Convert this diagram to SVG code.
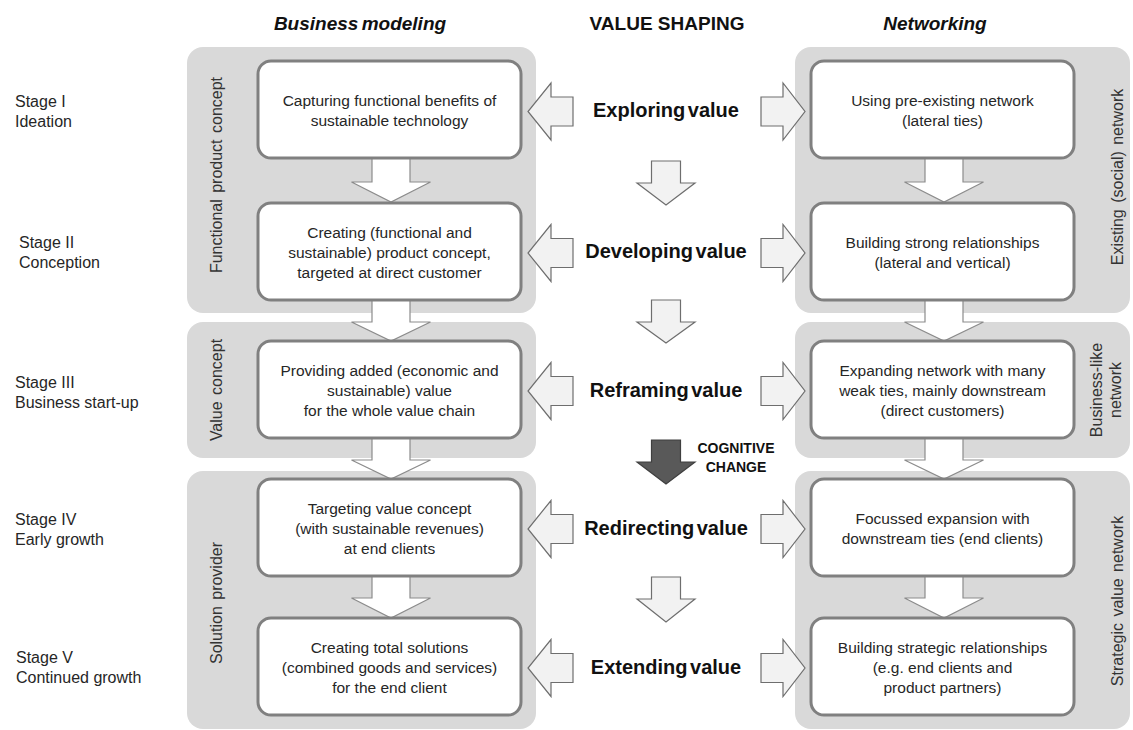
<svg xmlns="http://www.w3.org/2000/svg" width="1133" height="730" viewBox="0 0 1133 730">
  <style>
    .panel { fill: #d9d9d9; }
    .box { fill: #ffffff; stroke: #808080; stroke-width: 3; }
    .flow { fill: #ffffff; stroke: #8c8c8c; stroke-width: 1.2; stroke-linejoin: miter; }
    .mid { fill: #f2f2f2; stroke: #6e6e6e; stroke-width: 1.2; }
    .dark { fill: #595959; stroke: #3f3f3f; stroke-width: 1.2; }
    .txt { font-family: "Liberation Sans", Arial, sans-serif; font-size: 15.5px; fill: #262626; text-anchor: middle; }
    .stage { font-family: "Liberation Sans", Arial, sans-serif; font-size: 16px; fill: #262626; }
    .side { font-family: "Liberation Sans", Arial, sans-serif; font-size: 16px; fill: #333333; text-anchor: middle; word-spacing: 2px; }
    .val { font-family: "Liberation Sans", Arial, sans-serif; font-size: 20px; font-weight: bold; fill: #111111; text-anchor: middle; word-spacing: -3px; }
    .head { font-family: "Liberation Sans", Arial, sans-serif; font-size: 19px; font-weight: bold; fill: #111111; text-anchor: middle; }
    .cog { font-family: "Liberation Sans", Arial, sans-serif; font-size: 14px; font-weight: bold; fill: #111111; text-anchor: middle; }
  </style>

  <rect width="1133" height="730" fill="#ffffff"/>

  <!-- column headers -->
  <g id="headers">
    <text class="head" x="360" y="30" font-style="italic" word-spacing="-2">Business modeling</text>
    <text class="head" x="667" y="30">VALUE SHAPING</text>
    <text class="head" x="935" y="30" font-style="italic">Networking</text>
  </g>

  <!-- stage labels -->
  <g id="stages">
    <text class="stage" x="15" y="107">Stage I</text>
    <text class="stage" x="15" y="127">Ideation</text>
    <text class="stage" x="19" y="248">Stage II</text>
    <text class="stage" x="19" y="268">Conception</text>
    <text class="stage" x="15" y="388">Stage III</text>
    <text class="stage" x="15" y="408">Business start-up</text>
    <text class="stage" x="15" y="525">Stage IV</text>
    <text class="stage" x="15" y="545">Early growth</text>
    <text class="stage" x="16" y="663">Stage V</text>
    <text class="stage" x="16" y="683">Continued growth</text>
  </g>

  <!-- grey phase panels -->
  <g id="panels">
    <g id="panel-functional-product-concept">
      <rect class="panel" x="187" y="47" width="349" height="266" rx="16"/>
      <text class="side" transform="translate(222,175) rotate(-90)">Functional product concept</text>
    </g>
    <g id="panel-value-concept">
      <rect class="panel" x="187" y="322" width="349" height="136" rx="16"/>
      <text class="side" transform="translate(222,390) rotate(-90)">Value concept</text>
    </g>
    <g id="panel-solution-provider">
      <rect class="panel" x="187" y="471" width="349" height="258" rx="16"/>
      <text class="side" transform="translate(222,603) rotate(-90)">Solution provider</text>
    </g>
    <g id="panel-existing-network">
      <rect class="panel" x="795" y="47" width="335" height="266" rx="16"/>
      <text class="side" transform="translate(1123,177) rotate(-90)">Existing (social) network</text>
    </g>
    <g id="panel-business-like-network">
      <rect class="panel" x="795" y="322" width="335" height="136" rx="16"/>
      <text class="side" transform="translate(1102,390) rotate(-90)">Business-like</text>
      <text class="side" transform="translate(1121,390) rotate(-90)">network</text>
    </g>
    <g id="panel-strategic-value-network">
      <rect class="panel" x="795" y="471" width="335" height="258" rx="16"/>
      <text class="side" transform="translate(1123,601) rotate(-90)">Strategic value network</text>
    </g>
  </g>

  <!-- connectors: block arrows -->
  <g id="connectors">
    <!-- business modeling column -->
    <path class="flow" d="M372 158 H410 V182 H430.5 L391 202 L351.5 182 H372 Z"/>
    <path class="flow" d="M372 300 H410 V322 H430.5 L391 341 L351.5 322 H372 Z"/>
    <path class="flow" d="M372 438 H410 V460 H430.5 L391 479 L351.5 460 H372 Z"/>
    <path class="flow" d="M372 576 H410 V598 H430.5 L391 618 L351.5 598 H372 Z"/>
    <!-- networking column -->
    <path class="flow" d="M925 158 H963 V182 H983.5 L944 202 L904.5 182 H925 Z"/>
    <path class="flow" d="M925 300 H963 V322 H983.5 L944 341 L904.5 322 H925 Z"/>
    <path class="flow" d="M925 438 H963 V460 H983.5 L944 479 L904.5 460 H925 Z"/>
    <path class="flow" d="M925 576 H963 V598 H983.5 L944 618 L904.5 598 H925 Z"/>
    <!-- value shaping column -->
    <path class="mid" d="M651.5 161 H680.5 V183 H695 L666 205 L637 183 H651.5 Z"/>
    <path class="mid" d="M651.5 300 H680.5 V322 H695 L666 343 L637 322 H651.5 Z"/>
    <path class="dark" d="M651.5 440 H680.5 V462 H695 L666 484 L637 462 H651.5 Z"/>
    <path class="mid" d="M651.5 577 H680.5 V599 H695 L666 622 L637 599 H651.5 Z"/>
    <!-- sideways arrows, row 1..5 -->
    <path class="mid" d="M573 97 V126 H551 V140 L528 111.5 L551 83 V97 Z"/>
    <path class="mid" d="M761 97 V126 H783 V140 L805 111.5 L783 83 V97 Z"/>
    <path class="mid" d="M573 238.5 V267.5 H551 V281.5 L528 253 L551 224.5 V238.5 Z"/>
    <path class="mid" d="M761 238.5 V267.5 H783 V281.5 L805 253 L783 224.5 V238.5 Z"/>
    <path class="mid" d="M573 376.5 V405.5 H551 V419.5 L528 391 L551 362.5 V376.5 Z"/>
    <path class="mid" d="M761 376.5 V405.5 H783 V419.5 L805 391 L783 362.5 V376.5 Z"/>
    <path class="mid" d="M573 514.5 V543.5 H551 V557.5 L528 529 L551 500.5 V514.5 Z"/>
    <path class="mid" d="M761 514.5 V543.5 H783 V557.5 L805 529 L783 500.5 V514.5 Z"/>
    <path class="mid" d="M573 653.5 V682.5 H551 V696.5 L528 668 L551 639.5 V653.5 Z"/>
    <path class="mid" d="M761 653.5 V682.5 H783 V696.5 L805 668 L783 639.5 V653.5 Z"/>
  </g>

  <!-- value shaping labels -->
  <g id="value-shaping">
    <text class="val" x="666" y="117">Exploring value</text>
    <text class="val" x="666" y="258">Developing value</text>
    <text class="val" x="666" y="397">Reframing value</text>
    <text class="cog" x="736" y="453">COGNITIVE</text>
    <text class="cog" x="736" y="472">CHANGE</text>
    <text class="val" x="666" y="535">Redirecting value</text>
    <text class="val" x="666" y="674">Extending value</text>
  </g>

  <!-- business modeling steps -->
  <g id="bm-1">
    <rect class="box" x="258" y="61" width="263" height="97" rx="13"/>
    <text class="txt" x="389.5" y="106">Capturing functional benefits of</text>
    <text class="txt" x="389.5" y="126">sustainable technology</text>
  </g>
  <g id="bm-2">
    <rect class="box" x="258" y="203" width="263" height="97" rx="13"/>
    <text class="txt" x="389.5" y="238">Creating (functional and</text>
    <text class="txt" x="389.5" y="258">sustainable) product concept,</text>
    <text class="txt" x="389.5" y="278">targeted at direct customer</text>
  </g>
  <g id="bm-3">
    <rect class="box" x="258" y="341" width="263" height="97" rx="13"/>
    <text class="txt" x="389.5" y="376">Providing added (economic and</text>
    <text class="txt" x="389.5" y="396">sustainable) value</text>
    <text class="txt" x="389.5" y="416">for the whole value chain</text>
  </g>
  <g id="bm-4">
    <rect class="box" x="258" y="479" width="263" height="97" rx="13"/>
    <text class="txt" x="389.5" y="514">Targeting value concept</text>
    <text class="txt" x="389.5" y="534">(with sustainable revenues)</text>
    <text class="txt" x="389.5" y="554">at end clients</text>
  </g>
  <g id="bm-5">
    <rect class="box" x="258" y="618" width="263" height="97" rx="13"/>
    <text class="txt" x="389.5" y="653">Creating total solutions</text>
    <text class="txt" x="389.5" y="673">(combined goods and services)</text>
    <text class="txt" x="389.5" y="693">for the end client</text>
  </g>

  <!-- networking steps -->
  <g id="nw-1">
    <rect class="box" x="811" y="61" width="263" height="97" rx="13"/>
    <text class="txt" x="942.5" y="106">Using pre-existing network</text>
    <text class="txt" x="942.5" y="126">(lateral ties)</text>
  </g>
  <g id="nw-2">
    <rect class="box" x="811" y="203" width="263" height="97" rx="13"/>
    <text class="txt" x="942.5" y="248">Building strong relationships</text>
    <text class="txt" x="942.5" y="268">(lateral and vertical)</text>
  </g>
  <g id="nw-3">
    <rect class="box" x="811" y="341" width="263" height="97" rx="13"/>
    <text class="txt" x="942.5" y="376">Expanding network with many</text>
    <text class="txt" x="942.5" y="396">weak ties, mainly downstream</text>
    <text class="txt" x="942.5" y="416">(direct customers)</text>
  </g>
  <g id="nw-4">
    <rect class="box" x="811" y="479" width="263" height="97" rx="13"/>
    <text class="txt" x="942.5" y="524">Focussed expansion with</text>
    <text class="txt" x="942.5" y="544">downstream ties (end clients)</text>
  </g>
  <g id="nw-5">
    <rect class="box" x="811" y="618" width="263" height="97" rx="13"/>
    <text class="txt" x="942.5" y="653">Building strategic relationships</text>
    <text class="txt" x="942.5" y="673">(e.g. end clients and</text>
    <text class="txt" x="942.5" y="693">product partners)</text>
  </g>
</svg>
